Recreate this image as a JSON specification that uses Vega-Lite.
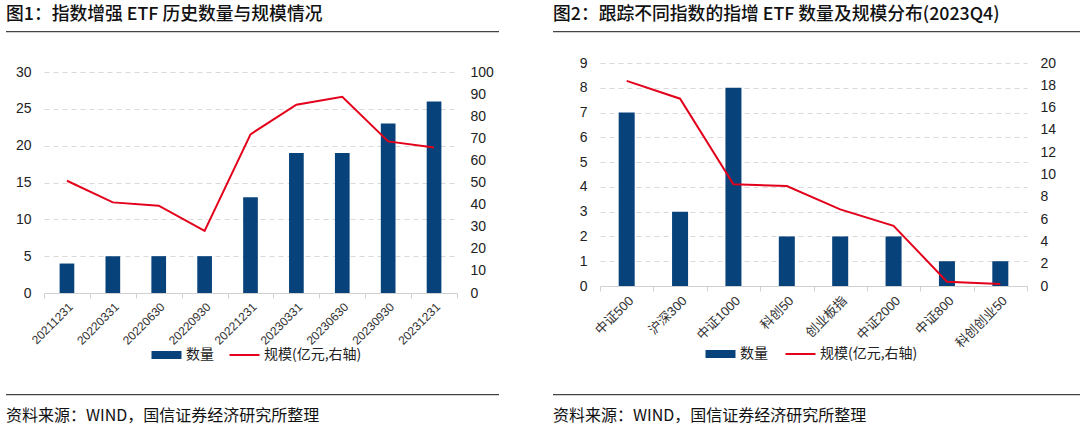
{
  "$schema": "https://vega.github.io/schema/vega-lite/v6.json",
  "padding": {"left": 5, "top": -5, "right": 0, "bottom": 0},
  "background": "white",
  "config": {
    "view": {"stroke": null},
    "font": "Liberation Sans",
    "axis": {"labelFont": "Liberation Sans, Noto Sans CJK SC", "labelColor": "#222"},
    "legend": {"labelFont": "Noto Sans CJK SC", "labelFontSize": 14, "labelColor": "#222", "padding": 0},
    "title": {"font": "Noto Sans CJK SC", "color": "#111"}
  },
  "resolve": {"scale": {"fill": "independent", "stroke": "independent"}},
  "spacing": 54,
  "hconcat": [
    {
      "spacing": 28,
      "resolve": {"scale": {"fill": "independent", "stroke": "independent"}},
      "vconcat": [
        {
          "spacing": 1,
          "vconcat": [
            {
              "width": 493, "height": 0.001,
              "title": {"text": "图1：指数增强 ETF 历史数量与规模情况", "orient": "bottom", "anchor": "start", "fontSize": 17.8, "fontWeight": 500, "offset": 0},
              "data": {"values": [{}]},
              "mark": {"type": "text"},
              "encoding": {"text": {"value": ""}}
            },
            {
              "width": 493, "height": 1.3,
              "view": {"fill": "#444444", "stroke": null},
              "data": {"values": [{}]},
              "mark": {"type": "text"},
              "encoding": {"text": {"value": ""}}
            }
          ]
        },
        {
          "spacing": 25,
          "resolve": {"scale": {"fill": "independent", "stroke": "independent"}},
          "vconcat": [
            {
              "width": 451, "height": 221,
              "data": {"values": [
                {"date": "20211231", "count": 4, "aum": 50.8},
                {"date": "20220331", "count": 5, "aum": 41.0},
                {"date": "20220630", "count": 5, "aum": 39.5},
                {"date": "20220930", "count": 5, "aum": 28.1},
                {"date": "20221231", "count": 13, "aum": 71.8},
                {"date": "20230331", "count": 19, "aum": 85.2},
                {"date": "20230630", "count": 19, "aum": 88.8},
                {"date": "20230930", "count": 23, "aum": 68.6},
                {"date": "20231231", "count": 26, "aum": 65.8}
              ]},
              "encoding": {
                "x": {"field": "date", "type": "ordinal", "sort": null,
                  "scale": {"paddingInner": 0, "paddingOuter": 0, "range": [38, 451]},
                  "axis": {"title": null, "labelAngle": -45, "labelFontSize": 12, "labelColor": "#333", "domainColor": "#d0d0d0", "tickColor": "#d0d0d0", "tickSize": 5, "tickBand": "extent", "labelPadding": 3, "grid": false}}
              },
              "layer": [
                {
                  "mark": {"type": "bar", "width": {"band": 0.32}},
                  "encoding": {
                    "y": {"field": "count", "type": "quantitative", "scale": {"domain": [0, 30], "nice": false},
                      "axis": {"title": null, "values": [0, 5, 10, 15, 20, 25, 30], "grid": true, "gridDash": [5, 4], "gridColor": "#d9d9d9", "domain": false, "ticks": false, "labelFontSize": 14, "labelPadding": 13, "offset": -38}},
                    "fill": {"datum": "数量", "scale": {"range": ["#08427a"]},
                      "legend": {"orient": "none", "legendX": 152, "legendY": 274.5, "title": null, "symbolType": "M-2,-0.53H2V0.53H-2Z", "symbolSize": 225, "labelOffset": 11}}
                  }
                },
                {
                  "mark": {"type": "line", "strokeWidth": 2},
                  "encoding": {
                    "y": {"field": "aum", "type": "quantitative", "scale": {"domain": [0, 100], "nice": false},
                      "axis": {"title": null, "orient": "right", "values": [0, 10, 20, 30, 40, 50, 60, 70, 80, 90, 100], "grid": false, "domain": false, "ticks": false, "labelFontSize": 14, "labelPadding": 13}},
                    "stroke": {"datum": "规模(亿元,右轴)", "scale": {"range": ["#e3001b"]},
                      "legend": {"orient": "none", "legendX": 230, "legendY": 274.5, "title": null, "symbolType": "M-2,0H2", "symbolSize": 225, "symbolStrokeWidth": 2, "labelOffset": 11}}
                  }
                }
              ],
              "resolve": {"scale": {"y": "independent"}}
            },
            {
              "width": 493, "height": 1.3,
              "view": {"fill": "#444444", "stroke": null},
              "title": {"text": "资料来源：WIND，国信证券经济研究所整理", "orient": "bottom", "anchor": "start", "fontSize": 16, "fontWeight": "normal", "offset": 8},
              "data": {"values": [{}]},
              "mark": {"type": "text"},
              "encoding": {"text": {"value": ""}}
            }
          ]
        }
      ]
    },
    {
      "spacing": 19,
      "resolve": {"scale": {"fill": "independent", "stroke": "independent"}},
      "vconcat": [
        {
          "spacing": 1,
          "vconcat": [
            {
              "width": 527, "height": 0.001,
              "title": {"text": "图2：跟踪不同指数的指增 ETF 数量及规模分布(2023Q4)", "orient": "bottom", "anchor": "start", "fontSize": 17.8, "fontWeight": 500, "offset": 0},
              "data": {"values": [{}]},
              "mark": {"type": "text"},
              "encoding": {"text": {"value": ""}}
            },
            {
              "width": 527, "height": 1.3,
              "view": {"fill": "#444444", "stroke": null},
              "data": {"values": [{}]},
              "mark": {"type": "text"},
              "encoding": {"text": {"value": ""}}
            }
          ]
        },
        {
          "spacing": 22,
          "resolve": {"scale": {"fill": "independent", "stroke": "independent"}},
          "vconcat": [
            {
              "width": 474, "height": 223,
              "data": {"values": [
                {"index": "中证500", "count": 7, "aum": 18.4},
                {"index": "沪深300", "count": 3, "aum": 16.8},
                {"index": "中证1000", "count": 8, "aum": 9.13},
                {"index": "科创50", "count": 2, "aum": 8.96},
                {"index": "创业板指", "count": 2, "aum": 6.87},
                {"index": "中证2000", "count": 2, "aum": 5.4},
                {"index": "中证800", "count": 1, "aum": 0.39},
                {"index": "科创创业50", "count": 1, "aum": 0.18}
              ]},
              "encoding": {
                "x": {"field": "index", "type": "ordinal", "sort": null,
                  "scale": {"paddingInner": 0, "paddingOuter": 0, "range": [47, 474]},
                  "axis": {"title": null, "labelAngle": -45, "labelFontSize": 13, "labelColor": "#333", "domainColor": "#d0d0d0", "tickColor": "#d0d0d0", "tickSize": 5, "tickBand": "extent", "labelPadding": 3, "grid": false}}
              },
              "layer": [
                {
                  "mark": {"type": "bar", "width": {"band": 0.3}},
                  "encoding": {
                    "y": {"field": "count", "type": "quantitative", "scale": {"domain": [0, 9], "nice": false},
                      "axis": {"title": null, "values": [0, 1, 2, 3, 4, 5, 6, 7, 8, 9], "grid": true, "gridDash": [5, 4], "gridColor": "#d9d9d9", "domain": false, "ticks": false, "labelFontSize": 14, "labelPadding": 13, "offset": -47}},
                    "fill": {"datum": "数量", "scale": {"range": ["#08427a"]},
                      "legend": {"orient": "none", "legendX": 155, "legendY": 278.5, "padding": 4, "title": null, "symbolType": "M-2,-0.53H2V0.53H-2Z", "symbolSize": 225, "labelOffset": 11}}
                  }
                },
                {
                  "mark": {"type": "line", "strokeWidth": 2},
                  "encoding": {
                    "y": {"field": "aum", "type": "quantitative", "scale": {"domain": [0, 20], "nice": false},
                      "axis": {"title": null, "orient": "right", "values": [0, 2, 4, 6, 8, 10, 12, 14, 16, 18, 20], "grid": false, "domain": false, "ticks": false, "labelFontSize": 14, "labelPadding": 13}},
                    "stroke": {"datum": "规模(亿元,右轴)", "scale": {"range": ["#e3001b"]},
                      "legend": {"orient": "none", "legendX": 235, "legendY": 278.5, "padding": 4, "title": null, "symbolType": "M-2,0H2", "symbolSize": 225, "symbolStrokeWidth": 2, "labelOffset": 11}}
                  }
                }
              ],
              "resolve": {"scale": {"y": "independent"}}
            },
            {
              "width": 527, "height": 1.3,
              "view": {"fill": "#444444", "stroke": null},
              "title": {"text": "资料来源：WIND，国信证券经济研究所整理", "orient": "bottom", "anchor": "start", "fontSize": 16, "fontWeight": "normal", "offset": 8},
              "data": {"values": [{}]},
              "mark": {"type": "text"},
              "encoding": {"text": {"value": ""}}
            }
          ]
        }
      ]
    }
  ]
}
